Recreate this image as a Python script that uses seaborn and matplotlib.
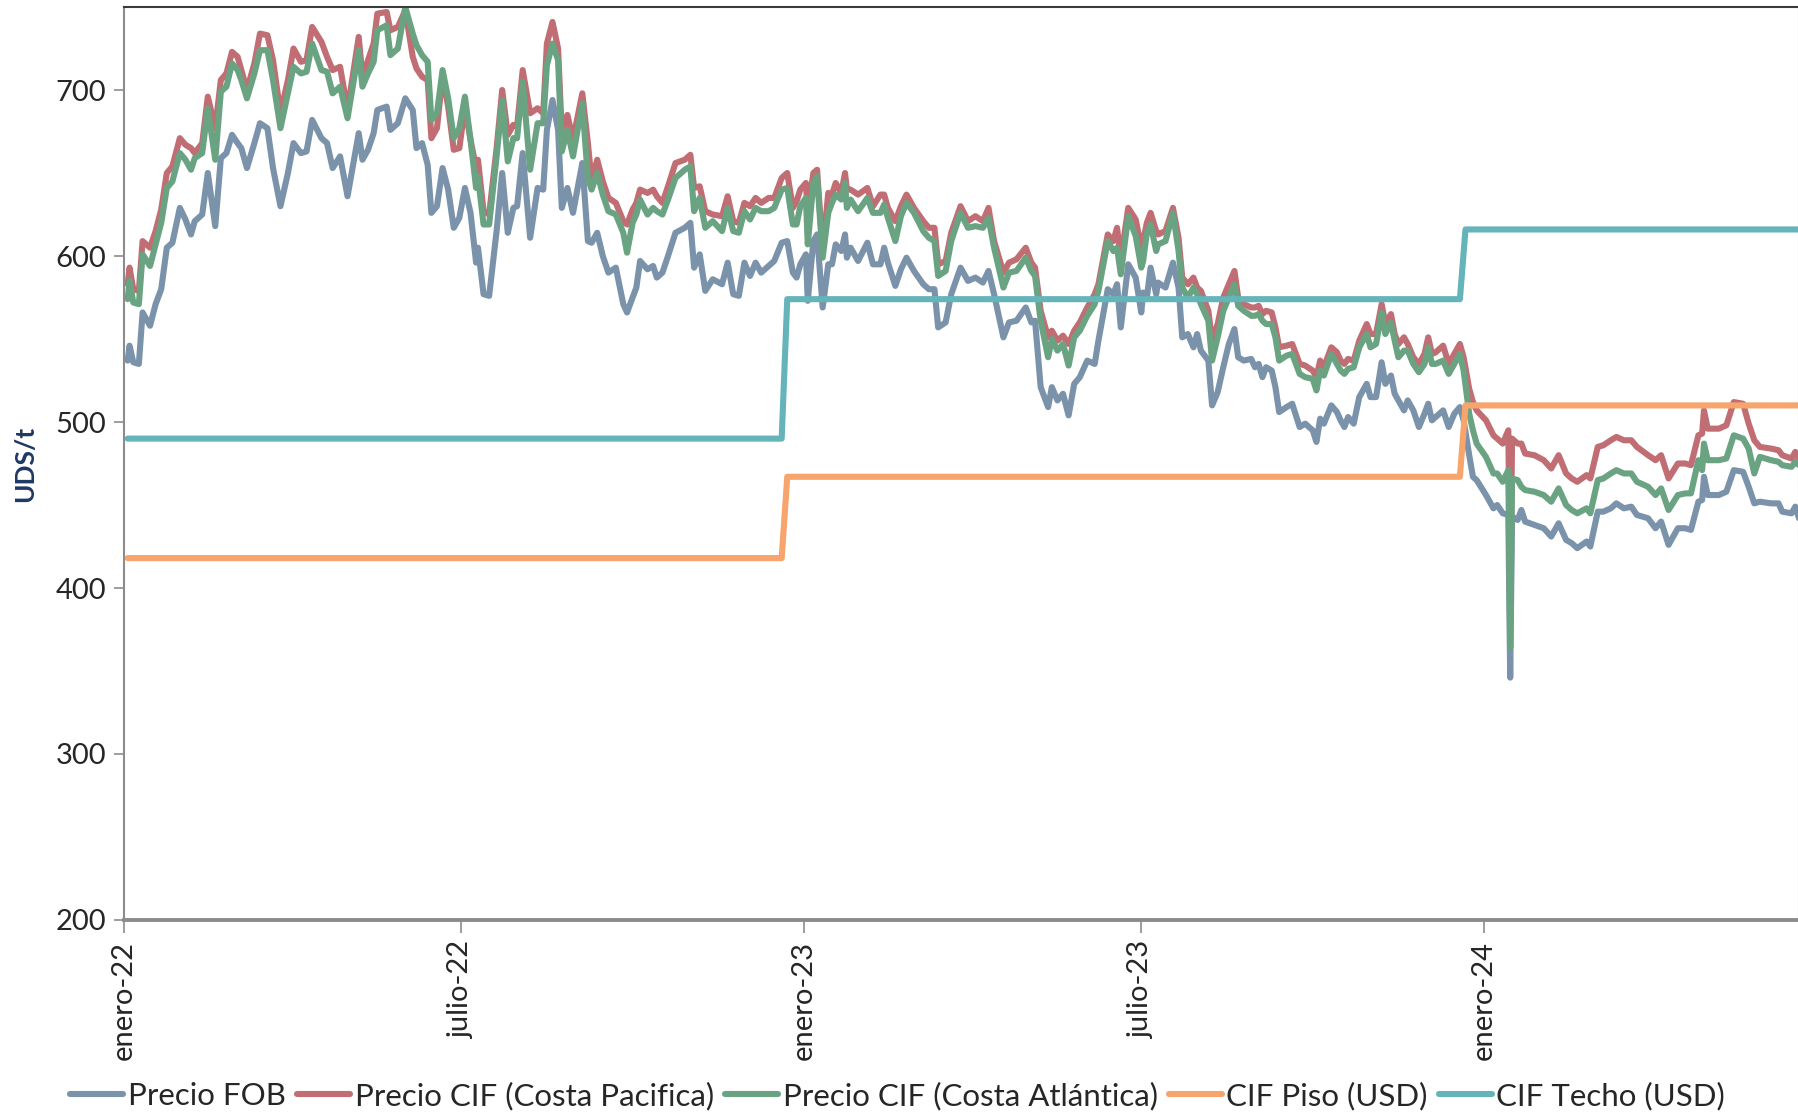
import matplotlib
matplotlib.use("Agg")
import matplotlib.pyplot as plt
import pandas as pd
import seaborn as sns

# ---- price series (USD/t) ----
fechas = [
    "2022-01-03", "2022-01-04", "2022-01-06", "2022-01-09", "2022-01-11", "2022-01-15", "2022-01-18",
    "2022-01-21", "2022-01-24", "2022-01-27", "2022-01-31", "2022-02-03", "2022-02-06", "2022-02-08",
    "2022-02-12", "2022-02-15", "2022-02-19", "2022-02-22", "2022-02-25", "2022-02-28", "2022-03-03",
    "2022-03-05", "2022-03-08", "2022-03-12", "2022-03-15", "2022-03-19", "2022-03-22", "2022-03-26",
    "2022-03-30", "2022-04-02", "2022-04-06", "2022-04-09", "2022-04-12", "2022-04-17", "2022-04-20",
    "2022-04-23", "2022-04-27", "2022-05-01", "2022-05-07", "2022-05-09", "2022-05-12", "2022-05-15",
    "2022-05-17", "2022-05-22", "2022-05-24", "2022-05-28", "2022-06-01", "2022-06-05", "2022-06-07",
    "2022-06-10", "2022-06-13", "2022-06-15", "2022-06-18", "2022-06-21", "2022-06-24", "2022-06-27",
    "2022-06-30", "2022-07-03", "2022-07-06", "2022-07-09", "2022-07-10", "2022-07-13", "2022-07-16",
    "2022-07-20", "2022-07-23", "2022-07-26", "2022-07-29", "2022-07-31", "2022-08-03", "2022-08-07",
    "2022-08-11", "2022-08-14", "2022-08-16", "2022-08-19", "2022-08-22", "2022-08-24", "2022-08-27",
    "2022-08-30", "2022-09-04", "2022-09-07", "2022-09-09", "2022-09-12", "2022-09-15", "2022-09-18",
    "2022-09-22", "2022-09-26", "2022-09-28", "2022-10-01", "2022-10-03", "2022-10-05", "2022-10-09",
    "2022-10-12", "2022-10-14", "2022-10-17", "2022-10-20", "2022-10-24", "2022-10-29", "2022-11-01",
    "2022-11-03", "2022-11-06", "2022-11-09", "2022-11-13", "2022-11-18", "2022-11-21", "2022-11-24",
    "2022-11-27", "2022-11-30", "2022-12-03", "2022-12-06", "2022-12-09", "2022-12-13", "2022-12-16",
    "2022-12-20", "2022-12-23", "2022-12-26", "2022-12-28", "2022-12-30", "2023-01-02", "2023-01-03",
    "2023-01-06", "2023-01-08", "2023-01-11", "2023-01-14", "2023-01-16", "2023-01-18", "2023-01-21",
    "2023-01-23", "2023-01-24", "2023-01-26", "2023-01-30", "2023-02-04", "2023-02-07", "2023-02-11",
    "2023-02-13", "2023-02-15", "2023-02-19", "2023-02-22", "2023-02-25", "2023-03-01", "2023-03-06",
    "2023-03-09", "2023-03-12", "2023-03-14", "2023-03-18", "2023-03-21", "2023-03-26", "2023-03-30",
    "2023-04-03", "2023-04-07", "2023-04-10", "2023-04-13", "2023-04-18", "2023-04-21", "2023-04-25",
    "2023-04-30", "2023-05-03", "2023-05-05", "2023-05-08", "2023-05-12", "2023-05-14", "2023-05-17",
    "2023-05-20", "2023-05-23", "2023-05-26", "2023-05-29", "2023-06-02", "2023-06-06", "2023-06-08",
    "2023-06-13", "2023-06-16", "2023-06-18", "2023-06-20", "2023-06-24", "2023-06-28", "2023-07-01",
    "2023-07-02", "2023-07-04", "2023-07-06", "2023-07-09", "2023-07-10", "2023-07-14", "2023-07-18",
    "2023-07-21", "2023-07-23", "2023-07-26", "2023-07-29", "2023-07-31", "2023-08-02", "2023-08-06",
    "2023-08-08", "2023-08-11", "2023-08-14", "2023-08-17", "2023-08-20", "2023-08-22", "2023-08-25",
    "2023-08-29", "2023-08-31", "2023-09-02", "2023-09-04", "2023-09-06", "2023-09-09", "2023-09-11",
    "2023-09-13", "2023-09-17", "2023-09-20", "2023-09-24", "2023-09-27", "2023-10-01", "2023-10-03",
    "2023-10-05", "2023-10-07", "2023-10-11", "2023-10-14", "2023-10-16", "2023-10-18", "2023-10-20",
    "2023-10-23", "2023-10-26", "2023-10-30", "2023-11-01", "2023-11-04", "2023-11-07", "2023-11-09",
    "2023-11-12", "2023-11-14", "2023-11-16", "2023-11-19", "2023-11-21", "2023-11-24", "2023-11-27",
    "2023-11-30", "2023-12-02", "2023-12-04", "2023-12-06", "2023-12-10", "2023-12-13", "2023-12-16",
    "2023-12-19", "2023-12-21", "2023-12-24", "2023-12-26", "2023-12-28", "2024-01-02", "2024-01-06",
    "2024-01-08", "2024-01-11", "2024-01-14", "2024-01-15", "2024-01-16", "2024-01-19", "2024-01-21",
    "2024-01-23", "2024-01-28", "2024-02-02", "2024-02-06", "2024-02-10", "2024-02-14", "2024-02-17",
    "2024-02-20", "2024-02-25", "2024-02-27", "2024-03-02", "2024-03-05", "2024-03-09", "2024-03-12",
    "2024-03-16", "2024-03-20", "2024-03-23", "2024-03-29", "2024-04-02", "2024-04-05", "2024-04-09",
    "2024-04-14", "2024-04-18", "2024-04-21", "2024-04-25", "2024-04-27", "2024-04-28", "2024-04-30",
    "2024-05-06", "2024-05-10", "2024-05-14", "2024-05-19", "2024-05-22", "2024-05-25", "2024-05-28",
    "2024-06-03", "2024-06-07", "2024-06-09", "2024-06-14", "2024-06-16", "2024-06-18",
]

precio_fob = [
    537, 546, 536, 535, 566, 558, 571, 580, 605, 608, 629, 622, 613, 621, 625, 650, 618, 659, 662, 673,
    668, 665, 653, 668, 680, 677, 653, 630, 650, 668, 662, 663, 682, 671, 668, 653, 660, 636, 674, 658,
    664, 674, 688, 690, 676, 680, 695, 688, 665, 668, 655, 626, 630, 653, 640, 617, 623, 641, 626, 596,
    605, 577, 576, 615, 650, 614, 629, 630, 662, 611, 641, 640, 676, 694, 676, 629, 641, 626, 656, 609,
    608, 614, 600, 590, 593, 571, 566, 575, 581, 597, 592, 594, 587, 590, 600, 614, 617, 620, 593, 601,
    579, 586, 583, 596, 577, 576, 596, 588, 596, 590, 594, 597, 608, 609, 590, 587, 595, 601, 573, 609,
    613, 569, 595, 595, 607, 603, 613, 599, 605, 597, 608, 595, 595, 605, 596, 582, 592, 599, 591, 583,
    580, 580, 557, 560, 577, 593, 585, 587, 584, 591, 577, 551, 560, 561, 569, 560, 561, 521, 509, 521,
    513, 517, 504, 523, 527, 537, 535, 549, 580, 577, 583, 557, 595, 587, 566, 578, 575, 593, 577, 584,
    581, 596, 581, 551, 553, 545, 553, 543, 537, 510, 518, 533, 547, 556, 539, 537, 538, 533, 535, 527,
    533, 531, 521, 506, 509, 511, 497, 499, 495, 488, 502, 499, 510, 506, 501, 497, 503, 499, 515, 523,
    515, 515, 536, 523, 528, 517, 513, 507, 513, 507, 497, 505, 511, 501, 503, 507, 497, 505, 509, 501,
    480, 467, 465, 456, 448, 450, 445, 444, 346, 443, 441, 447, 440, 438, 436, 431, 439, 429, 427, 424,
    428, 425, 446, 446, 448, 451, 448, 449, 444, 442, 436, 440, 426, 436, 436, 435, 452, 453, 467, 456,
    456, 458, 471, 470, 461, 451, 452, 451, 451, 446, 445, 449, 442,
]

precio_cif_pacifica = [
    583, 593, 580, 579, 609, 605, 615, 628, 650, 654, 671, 667, 665, 662, 668, 696, 677, 706, 710, 723,
    720, 712, 700, 716, 734, 733, 718, 686, 706, 725, 717, 718, 738, 729, 720, 712, 714, 688, 732, 708,
    718, 728, 746, 747, 736, 738, 748, 720, 713, 708, 706, 671, 677, 709, 690, 664, 665, 690, 670, 653,
    658, 627, 625, 665, 700, 673, 679, 678, 712, 686, 689, 686, 728, 741, 725, 674, 685, 670, 698, 668,
    645, 658, 645, 635, 632, 621, 619, 628, 632, 640, 638, 640, 636, 632, 642, 656, 658, 661, 641, 642,
    627, 625, 624, 636, 621, 620, 632, 630, 635, 632, 635, 635, 647, 650, 629, 633, 640, 644, 625, 650,
    652, 603, 638, 637, 644, 638, 650, 640, 640, 637, 641, 630, 637, 637, 629, 621, 630, 637, 629, 621,
    617, 617, 595, 597, 614, 630, 621, 624, 621, 629, 609, 590, 596, 598, 605, 596, 593, 567, 551, 555,
    549, 552, 547, 555, 560, 569, 577, 583, 613, 609, 617, 598, 629, 622, 605, 609, 620, 626, 615, 613,
    615, 629, 611, 587, 583, 587, 581, 579, 567, 549, 559, 575, 583, 591, 575, 571, 569, 569, 570, 565,
    567, 566, 557, 545, 546, 547, 535, 534, 531, 527, 537, 533, 545, 542, 537, 535, 538, 537, 549, 559,
    553, 553, 571, 559, 565, 553, 547, 551, 547, 539, 535, 541, 551, 541, 542, 546, 535, 541, 547, 539,
    520, 512, 507, 501, 492, 490, 487, 495, 390, 490, 487, 487, 481, 480, 477, 472, 480, 469, 466, 464,
    468, 466, 485, 486, 489, 491, 489, 489, 485, 480, 477, 480, 466, 475, 475, 474, 492, 493, 507, 496,
    496, 498, 512, 511, 499, 489, 485, 484, 483, 480, 478, 482, 478,
]

precio_cif_atlantica = [
    574, 585, 572, 571, 601, 594, 607, 620, 641, 645, 662, 658, 652, 659, 662, 689, 658, 699, 702, 716,
    712, 706, 695, 710, 724, 724, 706, 677, 698, 714, 710, 711, 728, 712, 711, 698, 702, 683, 724, 702,
    710, 717, 736, 739, 721, 725, 750, 734, 727, 721, 717, 682, 686, 712, 695, 671, 677, 696, 670, 641,
    648, 619, 619, 660, 694, 657, 671, 671, 705, 652, 680, 680, 715, 728, 718, 663, 676, 660, 692, 647,
    640, 650, 637, 627, 625, 614, 602, 620, 625, 634, 625, 629, 627, 625, 634, 647, 652, 654, 627, 635,
    617, 621, 615, 629, 615, 614, 627, 622, 629, 627, 627, 629, 640, 641, 619, 619, 630, 635, 607, 644,
    648, 599, 626, 632, 637, 634, 644, 629, 634, 627, 635, 626, 626, 631, 623, 609, 624, 632, 626, 615,
    611, 609, 588, 591, 609, 626, 617, 618, 617, 623, 605, 581, 590, 591, 599, 591, 588, 561, 539, 550,
    543, 547, 534, 551, 555, 564, 571, 579, 609, 603, 605, 589, 624, 612, 593, 597, 614, 619, 603, 607,
    609, 626, 603, 581, 575, 581, 577, 571, 561, 537, 551, 567, 575, 583, 570, 567, 564, 564, 565, 561,
    559, 559, 551, 537, 540, 541, 529, 527, 526, 519, 531, 528, 541, 535, 531, 529, 532, 533, 545, 553,
    545, 547, 566, 553, 560, 549, 539, 543, 543, 535, 530, 535, 545, 535, 535, 537, 529, 535, 541, 531,
    505, 495, 487, 479, 469, 469, 464, 471, 364, 466, 465, 461, 459, 458, 456, 452, 460, 450, 447, 445,
    448, 445, 465, 466, 469, 471, 469, 469, 464, 461, 456, 460, 447, 456, 457, 457, 477, 471, 487, 477,
    477, 478, 492, 490, 484, 469, 479, 477, 476, 474, 473, 476, 474,
]

# ---- CIF band (floor / ceiling), USD ----
fechas_banda = ["2022-01-03", "2022-12-20", "2022-12-23", "2023-12-19", "2023-12-22", "2024-06-18"]
cif_piso = [418, 418, 467, 467, 510, 510]
cif_techo = [490, 490, 574, 574, 616, 616]

series = [
    "Precio FOB",
    "Precio CIF (Costa Pacifica)",
    "Precio CIF (Costa Atlántica)",
    "CIF Piso (USD)",
    "CIF Techo (USD)",
]
colores = ["#7A93AB", "#C06E74", "#6AA382", "#F7A46D", "#64B4BA"]

ticks_x = ["2022-01-01", "2022-07-01", "2023-01-01", "2023-07-01", "2024-01-01"]
etiquetas_x = ["enero-22", "julio-22", "enero-23", "julio-23", "enero-24"]
ticks_y = [200, 300, 400, 500, 600, 700]

# ---- long-form table ----
partes = []
for nombre, f, v in [
    (series[0], fechas, precio_fob),
    (series[1], fechas, precio_cif_pacifica),
    (series[2], fechas, precio_cif_atlantica),
    (series[3], fechas_banda, cif_piso),
    (series[4], fechas_banda, cif_techo),
]:
    partes.append(pd.DataFrame({"fecha": pd.to_datetime(f), "valor": v, "serie": nombre}))
df = pd.concat(partes, ignore_index=True)

sns.set_style("white")
plt.rcParams["font.family"] = ["Lato", "DejaVu Sans"]

fig = plt.figure(figsize=(17.99, 11.15), dpi=100)
ax = fig.add_axes([0.0689, 0.1749, 0.9311, 0.8188])

sns.lineplot(
    data=df, x="fecha", y="valor", hue="serie", hue_order=series,
    palette=dict(zip(series, colores)), linewidth=4.4, estimator=None,
    ax=ax, legend=True,
)

ax.set_xlim(pd.Timestamp("2022-01-01"), pd.Timestamp("2024-06-18"))
ax.set_ylim(200, 750)
ax.set_yticks(ticks_y)
ax.set_xticks(pd.to_datetime(ticks_x))
ax.set_xticklabels(etiquetas_x, rotation=90, fontsize=21)
ax.tick_params(axis="y", labelsize=21, length=7, width=1.2, color="#8C8C8C",
               direction="out", left=True, pad=6)
ax.tick_params(axis="x", length=9, width=1.2, color="#8C8C8C",
               direction="out", bottom=True, pad=6)
ax.set_xlabel("")
ax.set_ylabel("UDS/t", fontsize=19, fontweight="bold", color="#1F3864")
ax.yaxis.set_label_coords(-0.052, 0.5)

for lado, (c, w) in {"left": ("#8C8C8C", 1.5), "bottom": ("#8C8C8C", 2.8),
                     "top": ("#3A3A3A", 1.5), "right": ("#8C8C8C", 1.5)}.items():
    ax.spines[lado].set_color(c)
    ax.spines[lado].set_linewidth(w)
ax.grid(False)

handles, labels = ax.get_legend_handles_labels()
ax.get_legend().remove()
fig.legend(handles, labels, loc="lower center", bbox_to_anchor=(0.499, -0.021),
           ncol=5, frameon=False, fontsize=22.5, handlelength=1.7,
           handletextpad=0.15, columnspacing=0.35)

fig.savefig("out.png", dpi=100)
